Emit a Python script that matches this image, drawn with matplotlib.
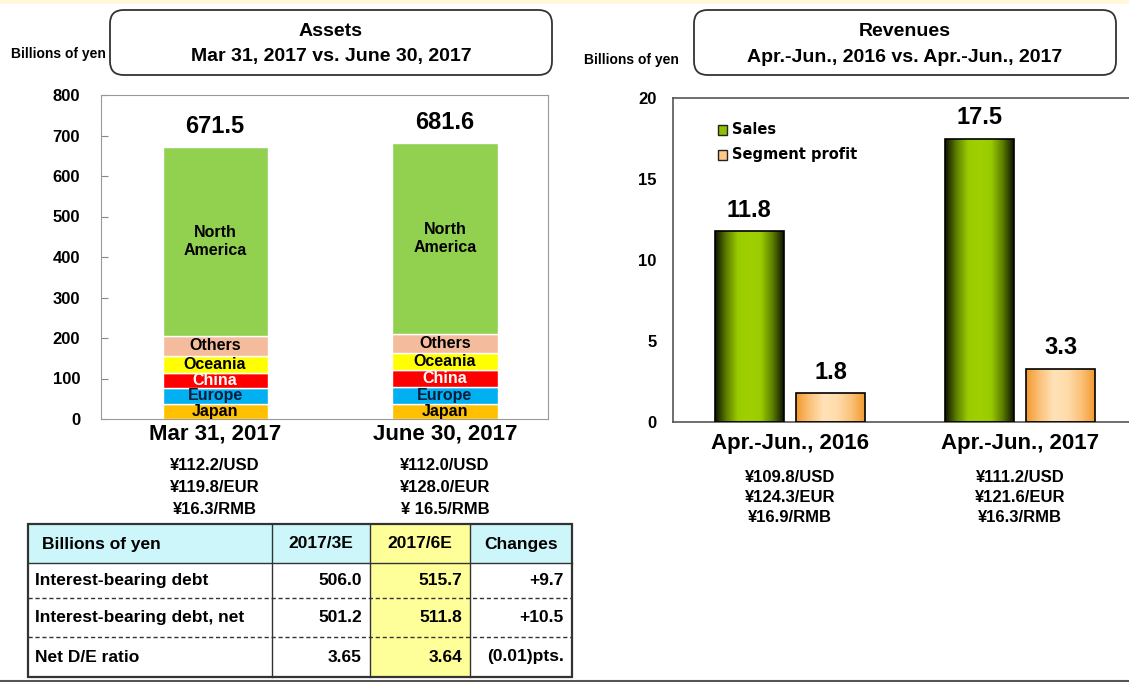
import numpy as np
import matplotlib
matplotlib.use("Agg")
import matplotlib.pyplot as plt
from matplotlib.patches import Rectangle, FancyBboxPatch
from matplotlib.lines import Line2D
from matplotlib.colors import LinearSegmentedColormap

FONT = ["Liberation Sans Narrow", "Liberation Sans", "DejaVu Sans"]
plt.rcParams["font.family"] = FONT
plt.rcParams["font.weight"] = "bold"

W, H = 1129, 682

# --- data -------------------------------------------------------------
asset_dates = ["Mar 31, 2017", "June 30, 2017"]
asset_totals = [671.5, 681.6]
regions = ["Japan", "Europe", "China", "Oceania", "Others", "North\nAmerica"]
region_colors = ["#ffc000", "#00b0f0", "#ff0000", "#ffff00", "#f4bc9c", "#92d050"]
region_text = ["black", "#0a1e3c", "white", "black", "black", "black"]
assets_mar = [38, 38, 38, 42, 50, 465.5]
assets_jun = [38, 42, 42, 40, 48, 471.6]
asset_fx = [["¥112.2/USD", "¥119.8/EUR", "¥16.3/RMB"],
            ["¥112.0/USD", "¥128.0/EUR", "¥ 16.5/RMB"]]

periods = ["Apr.-Jun., 2016", "Apr.-Jun., 2017"]
sales = [11.8, 17.5]
segment_profit = [1.8, 3.3]
period_fx = [["¥109.8/USD", "¥124.3/EUR", "¥16.9/RMB"],
             ["¥111.2/USD", "¥121.6/EUR", "¥16.3/RMB"]]

table_header = ["Billions of yen", "2017/3E", "2017/6E", "Changes"]
table_rows = ["Interest-bearing debt", "Interest-bearing debt, net", "Net D/E ratio"]
table_3e = ["506.0", "501.2", "3.65"]
table_6e = ["515.7", "511.8", "3.64"]
table_chg = ["+9.7", "+10.5", "(0.01)pts."]


def rect(x0, y0, x1, y1):
    # pixel box (top-left origin) -> figure fraction
    return [x0 / W, 1 - y1 / H, (x1 - x0) / W, (y1 - y0) / H]


def fx(x):
    return x / W


def fy(y):
    return 1 - y / H


fig = plt.figure(figsize=(W / 100, H / 100), dpi=100)

# top band / bottom rule
fig.add_artist(Rectangle((0, fy(4)), 1, 4 / H, transform=fig.transFigure,
                         facecolor="#fff8dc", edgecolor="none"))
fig.add_artist(Line2D([0, 1], [fy(681), fy(681)], transform=fig.transFigure,
                      color="#555555", lw=1.5))

# header boxes
for (x0, x1, t1, t2) in [(110, 552, "Assets", "Mar 31, 2017 vs. June 30, 2017"),
                         (694, 1116, "Revenues", "Apr.-Jun., 2016 vs. Apr.-Jun., 2017")]:
    fig.add_artist(FancyBboxPatch((fx(x0), fy(75)), (x1 - x0) / W, 65 / H,
                                  boxstyle="round,pad=0,rounding_size=0.012",
                                  transform=fig.transFigure, facecolor="white",
                                  edgecolor="#333333", lw=1.3, mutation_aspect=W / H))
    fig.text(fx((x0 + x1) / 2), fy(32), t1, ha="center", va="center", fontsize=14)
    fig.text(fx((x0 + x1) / 2), fy(57), t2, ha="center", va="center", fontsize=14)

fig.text(fx(58), fy(54), "Billions of yen", ha="center", va="center", fontsize=10)
fig.text(fx(631), fy(60), "Billions of yen", ha="center", va="center", fontsize=10)

# --- left: stacked assets ----------------------------------------------
ax1 = fig.add_axes(rect(101, 95, 548, 419))
x = np.arange(len(asset_dates))
bw = 0.457
stack = np.array([assets_mar, assets_jun])
bottom = np.zeros(len(asset_dates))
for i, reg in enumerate(regions):
    vals = stack[:, i]
    ax1.bar(x, vals, bw, bottom=bottom, color=region_colors[i],
            edgecolor="white", linewidth=1, zorder=2)
    for xi, b, v in zip(x, bottom, vals):
        ax1.text(xi, b + v / 2, reg, ha="center", va="center", fontsize=11.5,
                 color=region_text[i], zorder=3, linespacing=1.3)
    bottom += vals
for xi, t in zip(x, asset_totals):
    ax1.annotate(f"{t:.1f}", (xi, t), xytext=(0, 15), textcoords="offset points",
                 ha="center", va="center", fontsize=17)
ax1.set_ylim(0, 800)
ax1.set_xlim(-0.496, 1.448)
ax1.set_yticks(range(0, 801, 100))
ax1.tick_params(axis="y", direction="in", length=5, color="#888888",
                labelsize=12, pad=15)
ax1.set_xticks(x)
ax1.set_xticklabels(asset_dates, fontsize=16)
ax1.tick_params(axis="x", length=0, pad=3)
for s in ax1.spines.values():
    s.set_color("#999999")
for xi, lines in zip(x, asset_fx):
    for k, ln in enumerate(lines):
        ax1.annotate(ln, (xi, H - (466 + 21.5 * k)), xycoords=("data", "figure pixels"),
                     ha="center", va="center", fontsize=12)

# --- right: revenues with gradient bars --------------------------------
ax2 = fig.add_axes(rect(673, 98, 1129, 422))
xp = np.arange(len(periods))
bw2 = 0.3
off = 0.178
green = LinearSegmentedColormap.from_list(
    "g", ["#0c1400", "#5f8000", "#99cc00", "#a0d000", "#99cc00", "#5f8000", "#0c1400"])
orange = LinearSegmentedColormap.from_list(
    "o", ["#f29a2e", "#fbc27a", "#ffe2b8", "#ffdcaa", "#fbc27a", "#f29a2e"])
grad = np.linspace(0, 1, 256).reshape(1, -1)
for vals, dx, cm in [(sales, -off, green), (segment_profit, off, orange)]:
    bars = ax2.bar(xp + dx, vals, bw2, facecolor="none", edgecolor="black",
                   linewidth=1.2, zorder=3)
    for b, v in zip(bars, vals):
        im = ax2.imshow(grad, extent=[b.get_x(), b.get_x() + bw2, 0, v],
                        aspect="auto", cmap=cm, zorder=2)
        im.set_clip_path(b)
        ax2.annotate(f"{v:.1f}", (b.get_x() + bw2 / 2, v), xytext=(0, 15),
                     textcoords="offset points", ha="center", va="center",
                     fontsize=17)
ax2.set_xlim(-0.509, 1.474)
ax2.set_ylim(0, 20)
ax2.set_yticks(range(0, 21, 5))
ax2.tick_params(axis="y", direction="in", length=0, labelsize=12, pad=12)
ax2.set_xticks(xp)
ax2.set_xticklabels(periods, fontsize=16)
ax2.tick_params(axis="x", length=0, pad=8)
ax2.spines["right"].set_visible(False)
for k in ["left", "bottom", "top"]:
    ax2.spines[k].set_color("#555555")
    ax2.spines[k].set_linewidth(1.2)
for xi, lines in zip(xp, period_fx):
    for k, ln in enumerate(lines):
        ax2.annotate(ln, (xi, H - (477 + 20.5 * k)), xycoords=("data", "figure pixels"),
                     ha="center", va="center", fontsize=12)

# legend (drawn by hand to sit inside the plot area)
for k, (lab, col) in enumerate([("Sales", "#8cc000"), ("Segment profit", "#fcc888")]):
    yc = 130 + 25 * k
    fig.add_artist(Rectangle((fx(718), fy(yc + 5)), 9 / W, 10 / H,
                             transform=fig.transFigure, facecolor=col,
                             edgecolor="#222222", lw=1))
    fig.text(fx(732), fy(yc - 1), lab, ha="left", va="center", fontsize=10.5,
             family=["DejaVu Sans"], weight="bold")

# --- table -------------------------------------------------------------
cols = [28, 272, 370, 470, 572]
rows = [524, 563, 598, 637, 677]
fig.add_artist(Rectangle((fx(28), fy(563)), (572 - 28) / W, 39 / H,
                         transform=fig.transFigure, facecolor="#ccf6fa", edgecolor="none"))
fig.add_artist(Rectangle((fx(370), fy(677)), 100 / W, (677 - 524) / H,
                         transform=fig.transFigure, facecolor="#ffff99", edgecolor="none"))
for c in cols[1:-1]:
    fig.add_artist(Line2D([fx(c), fx(c)], [fy(524), fy(677)], transform=fig.transFigure,
                          color="#333333", lw=1))
fig.add_artist(Line2D([fx(28), fx(572)], [fy(563), fy(563)], transform=fig.transFigure,
                      color="#333333", lw=1))
for r in rows[2:-1]:
    fig.add_artist(Line2D([fx(28), fx(572)], [fy(r), fy(r)], transform=fig.transFigure,
                          color="#333333", lw=1, ls=(0, (3, 2))))
fig.add_artist(Rectangle((fx(28), fy(677)), (572 - 28) / W, (677 - 524) / H,
                         transform=fig.transFigure, facecolor="none",
                         edgecolor="#333333", lw=1.6))

fig.text(fx(42), fy(544), table_header[0], ha="left", va="center", fontsize=12.5)
for j in range(1, 4):
    fig.text(fx((cols[j] + cols[j + 1]) / 2), fy(544), table_header[j],
             ha="center", va="center", fontsize=12.5)
for i, lab in enumerate(table_rows):
    yc = (rows[i + 1] + rows[i + 2]) / 2
    fig.text(fx(35), fy(yc), lab, ha="left", va="center", fontsize=12.5)
    fig.text(fx(cols[2] - 8), fy(yc), table_3e[i], ha="right", va="center", fontsize=12.5)
    fig.text(fx(cols[3] - 8), fy(yc), table_6e[i], ha="right", va="center", fontsize=12.5)
    fig.text(fx(cols[4] - 8), fy(yc), table_chg[i], ha="right", va="center", fontsize=12.5)

fig.savefig("out.png", dpi=100)
